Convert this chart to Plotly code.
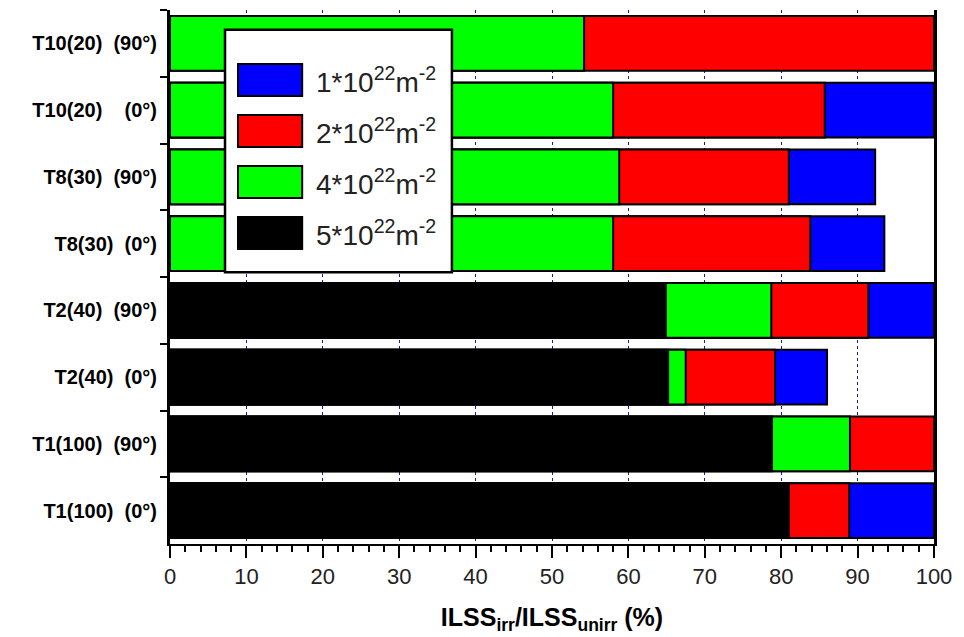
import plotly.graph_objects as go

# Categories, listed top to bottom as in the chart
categories = [
    "T10(20)\u00a0\u00a0(90°)",
    "T10(20)\u00a0\u00a0\u00a0\u00a0(0°)",
    "T8(30)\u00a0\u00a0(90°)",
    "T8(30)\u00a0\u00a0(0°)",
    "T2(40)\u00a0\u00a0(90°)",
    "T2(40)\u00a0\u00a0(0°)",
    "T1(100)\u00a0\u00a0(90°)",
    "T1(100)\u00a0\u00a0(0°)",
]

# ILSS_irr / ILSS_unirr (%) for each fluence (None = not shown)
fluence_1e22 = [None, 100.0, 92.3, 93.5, 100.0, 86.0, None, 100.0]
fluence_2e22 = [100.0, 85.7, 81.0, 83.8, 91.4, 79.2, 100.0, 88.9]
fluence_4e22 = [54.2, 58.0, 58.8, 58.0, 78.7, 67.5, 89.0, None]
fluence_5e22 = [None, None, None, None, 64.9, 65.2, 78.8, 81.0]

series_names = ["1*10<sup>22</sup>m<sup>-2</sup>", "2*10<sup>22</sup>m<sup>-2</sup>",
                "4*10<sup>22</sup>m<sup>-2</sup>", "5*10<sup>22</sup>m<sup>-2</sup>"]
series_values = [fluence_1e22, fluence_2e22, fluence_4e22, fluence_5e22]
series_colors = ["#0000FF", "#FF0000", "#00FF00", "#000000"]

x_ticks = list(range(0, 101, 10))

fig = go.Figure()
for name, vals, col in zip(series_names, series_values, series_colors):
    fig.add_trace(go.Bar(
        y=categories, x=vals, orientation="h", name=name,
        marker=dict(color=col, line=dict(color="black", width=2)),
        width=0.82, showlegend=False,
    ))

fig.update_layout(
    barmode="overlay",
    width=956, height=629,
    margin=dict(l=162, r=30, t=2, b=93, autoexpand=False),
    plot_bgcolor="white", paper_bgcolor="white",
    font=dict(family="Liberation Sans", color="black"),
    xaxis=dict(
        range=[0, 100], tickvals=x_ticks, ticktext=[str(v) for v in x_ticks],
        ticks="outside", ticklen=12, tickwidth=2, tickcolor="black",
        minor=dict(dtick=2, ticks="outside", ticklen=6, tickwidth=2,
                   tickcolor="black", showgrid=False),
        showline=True, linecolor="black", linewidth=2,
        showgrid=True, gridcolor="#1a1aa0", griddash="dot", gridwidth=1,
        zeroline=False, automargin=False,
        tickfont=dict(family="Liberation Sans", size=22, color="#222"),
        title=dict(text="<b>ILSS<sub>irr</sub>/ILSS<sub>unirr</sub> (%)</b>",
                   font=dict(family="Liberation Sans", size=25, color="black"),
                   standoff=20),
    ),
    yaxis=dict(
        autorange="reversed", type="category",
        tickson="boundaries", ticks="outside", ticklen=7, tickwidth=2,
        tickcolor="black",
        showline=True, linecolor="black", linewidth=3, mirror=True,
        showgrid=False, zeroline=False, automargin=False,
        tickfont=dict(family="Liberation Sans", size=20, color="black",
                      weight="bold"),
        ticklabelstandoff=6,
    ),
    yaxis2=dict(
        overlaying="y", type="linear", range=[len(categories) - 0.5, -0.5],
        tickvals=[i - 0.5 for i in range(len(categories) + 1)],
        ticks="inside", ticklen=7, tickwidth=2, tickcolor="black",
        showticklabels=False, showgrid=False, zeroline=False, showline=False,
        automargin=False,
    ),
)

# Custom legend with large swatches (paper coordinates)
fig.add_shape(type="rect", xref="paper", yref="paper",
              x0=0.072, x1=0.369, y0=0.509, y1=0.963,
              fillcolor="white", line=dict(color="black", width=2.5), layer="above")
top = 0.899
step = 0.0955
sw_h = 0.060
for i, (name, col) in enumerate(zip(series_names, series_colors)):
    y1 = top - i * step
    y0 = y1 - sw_h
    fig.add_shape(type="rect", xref="paper", yref="paper",
                  x0=0.089, x1=0.173, y0=y0, y1=y1,
                  fillcolor=col, line=dict(color="black", width=2), layer="above")
    fig.add_annotation(xref="paper", yref="paper", x=0.188, y=(y0 + y1) / 2,
                       text=name, showarrow=False, xanchor="left", yanchor="middle",
                       font=dict(family="Liberation Sans", size=28, color="#222"))

fig.write_html("out.html")
